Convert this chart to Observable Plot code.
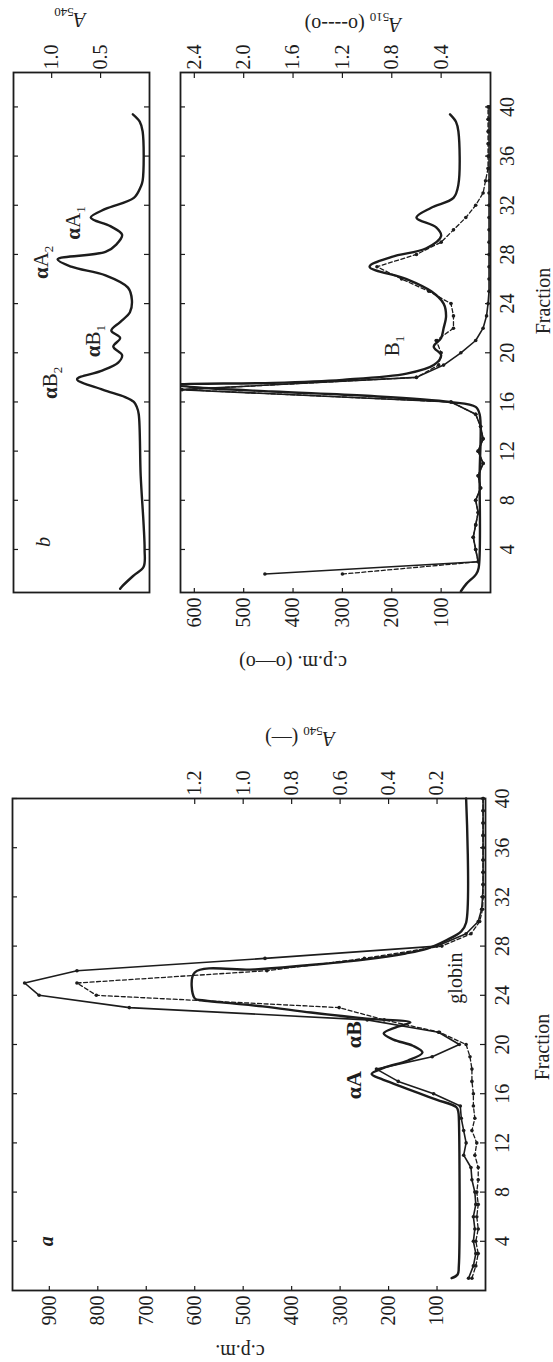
<!DOCTYPE html>
<html><head><meta charset="utf-8">
<script src="https://cdn.jsdelivr.net/npm/d3@7"></script>
<script src="https://cdn.jsdelivr.net/npm/@observablehq/plot@0.6"></script>
<style>
html,body{margin:0;padding:0;background:#fff;width:553px;height:1362px;overflow:hidden;}
#page{position:absolute;left:0;top:1362px;width:1362px;height:553px;transform:rotate(-90deg);transform-origin:0 0;}
.pl{position:absolute;}
.lbl{position:absolute;font-family:"Liberation Serif",serif;font-size:20px;color:#222;white-space:nowrap;line-height:1;}
.rot{transform:translate(-50%,-50%) rotate(-90deg);}
.ctr{transform:translate(-50%,-50%);}
</style></head><body><div id="page"></div><script>
// ---------- data ----------
const fracTicks = [4, 8, 12, 16, 20, 24, 28, 32, 36, 40];
const cpmTicksA = [100, 200, 300, 400, 500, 600, 700, 800, 900];
const a540TicksA = [0.2, 0.4, 0.6, 0.8, 1.0, 1.2];
const cpmTicksB = [100, 200, 300, 400, 500, 600];
const a510TicksB = [0.4, 0.8, 1.2, 1.6, 2.0, 2.4];
const a540TicksB = [0.5, 1.0];

// panel a
const fracA = d3.range(1, 41);
const cpmA1 = [35,25,20,25,22,25,20,22,28,30,45,40,45,50,52,107,180,225,110,54,97,244,735,921,951,843,455,100,40,15,8,6,5,5,5,5,5,5,5,5];
const cpmA2 = [28,20,15,20,15,18,15,18,15,15,22,18,28,22,25,25,28,28,32,40,95,209,302,803,843,451,250,90,30,12,6,5,5,5,5,5,5,5,5,5];
const a540AFrac = [1.0,1.3,2,14,14.5,14.9,15.5,16,16.6,17.2,17.6,18.1,18.7,19.35,19.9,20.4,20.9,21.4,21.8,22.1,22.6,23.1,23.4,23.6,23.75,25.85,26.1,26.5,26.9,27.4,27.8,28.5,29.2,29.9,40];
const a540AVal  = [0.14,0.115,0.11,0.11,0.112,0.12,0.2,0.27,0.35,0.43,0.47,0.42,0.32,0.26,0.3,0.38,0.42,0.37,0.31,0.49,0.72,0.92,1.08,1.17,1.2,1.2,0.95,0.7,0.5,0.33,0.24,0.16,0.1,0.08,0.08];

// panel b (upper strip, A540)
const a540BFrac = [0.8,1.0,1.9,2.6,4,6,10,15,15.6,16,16.4,17,17.85,18.5,19.2,19.8,20.5,21.2,21.8,22.5,23.3,24.3,25.3,26.3,27,27.6,28.2,28.8,29.6,30.3,31,31.7,32.6,33.5,34,38,38.8,39.4];
const a540BVal  = [0.3,0.28,0.16,0.06,0.05,0.06,0.09,0.11,0.13,0.16,0.25,0.48,0.74,0.5,0.32,0.28,0.37,0.3,0.39,0.3,0.2,0.18,0.22,0.45,0.8,0.94,0.45,0.34,0.28,0.4,0.6,0.45,0.16,0.09,0.07,0.07,0.1,0.17];

// panel b (lower, c.p.m. and A510)
const fracB = d3.range(2, 41);
const cpmB  = [457,25,30,35,30,25,30,20,25,15,25,15,20,30,80,630,150,95,60,30,15,8,5,3,3,3,3,3,3,3,3,3,3,3,3,3,3,3,3];
const a510B = [1.2,0.1,0.12,0.14,0.12,0.1,0.12,0.08,0.1,0.06,0.1,0.06,0.08,0.12,0.32,2.5,0.6,0.42,0.4,0.44,0.3,0.3,0.32,0.5,0.72,0.92,0.6,0.4,0.3,0.2,0.12,0.06,0.04,0.02,0.02,0.02,0.02,0.02,0.02];
const smoothBFrac = [0.6,1.2,2.0,2.5,10,15,15.6,16,16.5,16.85,17.2,17.4,17.55,17.8,18.3,19,19.8,20.5,21.2,22,23,24,25,26,27,27.8,28.5,29.5,30.2,31,31.8,32.6,33.7,38,38.8,39.4];
const smoothBVal  = [60,49,29,24,22,22,30,82,250,443,600,640,440,300,170,115,100,115,100,95,90,95,120,170,245,200,130,100,110,150,120,75,65,65,70,82];

// ---------- drawing ----------
const ink = "#1c1c1c";
const page = document.getElementById("page");
const font = {fontFamily: "Liberation Serif, serif", fontSize: "20px", color: ink, background: "transparent", overflow: "visible"};

function place(el, left, top) { el.classList.add("pl"); el.style.left = left + "px"; el.style.top = top + "px"; page.appendChild(el); }
function label(html, x, y, cls, extra) {
  const d = document.createElement("div");
  d.className = "lbl " + cls; d.innerHTML = html;
  d.style.left = x + "px"; d.style.top = y + "px";
  if (extra) Object.assign(d.style, extra);
  page.appendChild(d);
}
function inwardTicks(xTicks, yTicks, innerW, innerH, len) {
  const m = [];
  if (xTicks) {
    m.push(Plot.tickX(xTicks, {x: d => d, insetTop: innerH - len, stroke: ink, strokeWidth: 1.2}));
    m.push(Plot.tickX(xTicks, {x: d => d, insetBottom: innerH - len, stroke: ink, strokeWidth: 1.2}));
  }
  if (yTicks.left.length) m.push(Plot.tickY(yTicks.left, {y: d => d, insetRight: innerW - len, stroke: ink, strokeWidth: 1.2}));
  if (yTicks.right.length) m.push(Plot.tickY(yTicks.right, {y: d => d, insetLeft: innerW - len, stroke: ink, strokeWidth: 1.2}));
  return m;
}
const sub = n => "<sub style='font-size:13px'>" + n + "</sub>";

// ----- panel a -----
{
  const W = 640, H = 553, mL = 71, mR = 77, mT = 12, mB = 68;
  const iw = W - mL - mR, ih = H - mT - mB;
  const k = 500; // A540 -> c.p.m. position
  const rowsA = fracA.map((f, i) => ({f, c1: cpmA1[i], c2: cpmA2[i]}));
  const rowsS = a540AFrac.map((f, i) => ({f, v: a540AVal[i] * k}));
  const p = Plot.plot({
    width: W, height: H, marginLeft: mL, marginRight: mR, marginTop: mT, marginBottom: mB,
    x: {domain: [0, 40]}, y: {domain: [0, 976]},
    style: font,
    marks: [
      Plot.axisX({ticks: fracTicks, tickSize: 0, tickPadding: 9, label: null, tickFormat: d => d}),
      Plot.axisY({anchor: "left", ticks: cpmTicksA, tickSize: 0, tickPadding: 5, label: null, tickFormat: d => d}),
      Plot.axisY({anchor: "right", ticks: a540TicksA.map(v => v * k), tickSize: 0, tickPadding: 3, label: null, tickFormat: v => (v / k).toFixed(1)}),
      ...inwardTicks(fracTicks, {left: cpmTicksA, right: a540TicksA.map(v => v * k)}, iw, ih, 5),
      Plot.line(rowsS, {x: "f", y: "v", stroke: ink, strokeWidth: 2.4, curve: "catmull-rom"}),
      Plot.line(rowsA, {x: "f", y: "c1", stroke: ink, strokeWidth: 1.6}),
      Plot.dot(rowsA, {x: "f", y: "c1", r: 1.8, fill: ink, stroke: null}),
      Plot.line(rowsA, {x: "f", y: "c2", stroke: ink, strokeWidth: 1.3, strokeDasharray: "4,2.5"}),
      Plot.dot(rowsA, {x: "f", y: "c2", r: 1.8, fill: ink, stroke: null}),
      Plot.text([{f: 4, c: 905, t: "a"}], {x: "f", y: "c", text: "t", fontStyle: "italic", fontWeight: "bold", fontSize: 20, fill: ink}),
      Plot.text([{f: 16.7, c: 272, t: "αA"}, {f: 20.8, c: 272, t: "αB"}], {x: "f", y: "c", text: "t", fontWeight: "bold", fontSize: 22, fill: ink}),
      Plot.text([{f: 25.4, c: 62, t: "globin"}], {x: "f", y: "c", text: "t", fontSize: 20, fill: ink}),
      Plot.frame({stroke: ink, strokeWidth: 1.8})
    ]
  });
  place(p, 0, 0);
  label("c.p.m.", 10, 240, "rot");
  label("<i>A</i>" + sub(540) + " (—)", 625, 300, "rot");
  label("Fraction", 315, 542, "ctr");
}

// ----- panel b, upper strip -----
{
  const W = 662, H = 160, mL = 69, mR = 73, mT = 13, mB = 11;
  const iw = W - mL - mR, ih = H - mT - mB;
  const rows = a540BFrac.map((f, i) => ({f, v: a540BVal[i]}));
  const p = Plot.plot({
    width: W, height: H, marginLeft: mL, marginRight: mR, marginTop: mT, marginBottom: mB,
    x: {domain: [0.5, 42.8], axis: null}, y: {domain: [0, 1.39], axis: null},
    style: font,
    marks: [
      Plot.axisY({anchor: "right", ticks: a540TicksB, tickSize: 0, tickPadding: 3, label: null, tickFormat: v => v.toFixed(1)}),
      ...inwardTicks(fracTicks, {left: [], right: a540TicksB}, iw, ih, 5),
      Plot.line(rows, {x: "f", y: "v", stroke: ink, strokeWidth: 2.4, curve: "catmull-rom"}),
      Plot.text([{f: 4.6, v: 1.08, t: "b"}], {x: "f", y: "v", text: "t", fontStyle: "italic", fontSize: 20, fill: ink}),
      Plot.frame({stroke: ink, strokeWidth: 1.8})
    ]
  });
  place(p, 700, 0);
  label("<i>A</i>" + sub(540), 1344, 70, "rot");
  const xs = d3.scaleLinear([0.5, 42.8], [700 + mL, 700 + W - mR]);
  const ys = d3.scaleLinear([0, 1.39], [H - mB, mT]);
  const pk = [["<b>α</b>B" + sub(2), 17.6, 0.99], ["<b>α</b>B" + sub(1), 21.0, 0.55], ["<b>α</b>A" + sub(2), 27.4, 1.08], ["<b>α</b>A" + sub(1), 30.6, 0.76]];
  pk.forEach(([t, f, v]) => label(t, xs(f), ys(v), "ctr", {fontSize: "21px"}));
}

// ----- panel b, lower -----
{
  const W = 662, H = 393, mL = 69, mR = 73, mT = 20, mB = 63;
  const iw = W - mL - mR, ih = H - mT - mB;
  const k = 250; // A510 -> c.p.m. position
  const rows = fracB.map((f, i) => ({f, c: cpmB[i], a: a510B[i] * k}));
  const rowsS = smoothBFrac.map((f, i) => ({f, v: smoothBVal[i]}));
  const p = Plot.plot({
    width: W, height: H, marginLeft: mL, marginRight: mR, marginTop: mT, marginBottom: mB,
    x: {domain: [0.5, 42.8]}, y: {domain: [0, 628]},
    style: font,
    marks: [
      Plot.axisX({ticks: fracTicks, tickSize: 0, tickPadding: 9, label: null, tickFormat: d => d}),
      Plot.axisY({anchor: "left", ticks: cpmTicksB, tickSize: 0, tickPadding: 5, label: null, tickFormat: d => d}),
      Plot.axisY({anchor: "right", ticks: a510TicksB.map(v => v * k), tickSize: 0, tickPadding: 3, label: null, tickFormat: v => (v / k).toFixed(1)}),
      ...inwardTicks(fracTicks, {left: cpmTicksB, right: a510TicksB.map(v => v * k)}, iw, ih, 5),
      Plot.line(rowsS, {x: "f", y: "v", stroke: ink, strokeWidth: 2.4, curve: "catmull-rom", clip: true}),
      Plot.line(rows, {x: "f", y: "c", stroke: ink, strokeWidth: 1.6, clip: true}),
      Plot.dot(rows, {x: "f", y: "c", r: 1.8, fill: ink, stroke: null, clip: true}),
      Plot.line(rows, {x: "f", y: "a", stroke: ink, strokeWidth: 1.3, strokeDasharray: "4,2.5", clip: true}),
      Plot.dot(rows, {x: "f", y: "a", r: 1.8, fill: ink, stroke: null, clip: true}),
      Plot.frame({stroke: ink, strokeWidth: 1.8})
    ]
  });
  place(p, 700, 160);
  label("c.p.m. (o—o)", 699, 293, "rot");
  label("<i>A</i>" + sub(510) + " (o----o)", 1339, 353, "rot");
  label("Fraction", 1061, 543, "ctr");
  const xs = d3.scaleLinear([0.5, 42.8], [700 + mL, 700 + W - mR]);
  const ys = d3.scaleLinear([0, 628], [160 + H - mB, 160 + mT]);
  label("B" + sub(1), xs(20.6), ys(195), "ctr", {fontSize: "21px"});
}
</script></body></html>
